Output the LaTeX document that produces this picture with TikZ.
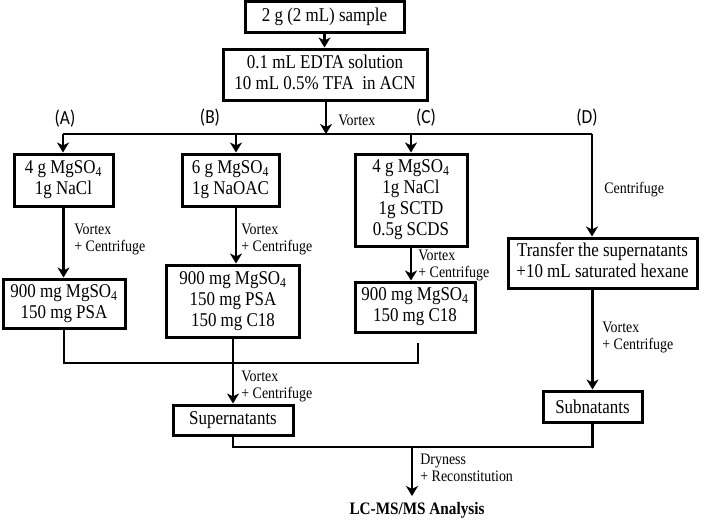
\documentclass[tikz,border=0pt]{standalone}
\usepackage{fontspec}
\usepackage{graphicx}
\setmainfont{Liberation Serif}
\newfontfamily\carl{Carlito}
\usetikzlibrary{arrows.meta}
\newcommand{\mycen}[1]{\scalebox{0.87}[1]{\begin{tabular}{@{}c@{}}#1\end{tabular}}}
\newcommand{\myleft}[1]{\scalebox{0.87}[1]{\begin{tabular}{@{}l@{}}#1\end{tabular}}}
\newcommand{\mysq}[1]{\scalebox{0.87}[1]{#1}}
\begin{document}
\begin{tikzpicture}[x=1pt,y=-1pt, line width=2.8pt,
  box/.style={draw, line width=3pt, inner sep=0pt, align=center, font=\fontsize{19.5}{21}\selectfont},
  lab/.style={anchor=west, inner sep=0pt, font=\fontsize{16}{17}\selectfont},
  arr/.style={-{Stealth[length=10pt,width=12pt,inset=3pt]}},
  tag/.style={font=\carl\fontsize{20}{22}\selectfont, inner sep=0pt}]
\useasboundingbox (0,0) rectangle (705,522);

% boxes
\node[box, minimum width=159pt, minimum height=31pt] (b1) at (324.5,17) {\mysq{2 g (2 mL) sample}};
\node[box, minimum width=204pt, minimum height=51pt] (b2) at (325,74.5) {\mycen{0.1 mL EDTA solution\\10 mL 0.5\% TFA~ in ACN}};
\node[box, minimum width=99pt, minimum height=52pt] (a1) at (63.5,180) {\mycen{4 g MgSO\textsubscript{4}\\1g NaCl}};
\node[box, minimum width=97pt, minimum height=52pt] (bb1) at (230.5,180) {\mycen{6 g MgSO\textsubscript{4}\\1g NaOAC}};
\node[box, minimum width=112pt, minimum height=92pt] (c1) at (411,200) {\mycen{4 g MgSO\textsubscript{4}\\1g NaCl\\1g SCTD\\0.5g SCDS}};
\node[box, minimum width=189pt, minimum height=50pt] (d1) at (602.5,263) {\mycen{Transfer the supernatants\\+10 mL saturated hexane}};
\node[box, minimum width=122pt, minimum height=49pt] (a2) at (64,303.5) {\mycen{900 mg MgSO\textsubscript{4}\\150 mg PSA}};
\node[box, minimum width=133pt, minimum height=72pt] (bb2) at (233,301) {\mycen{900 mg MgSO\textsubscript{4}\\150 mg PSA\\150 mg C18}};
\node[box, minimum width=120pt, minimum height=50pt] (c2) at (415,307) {\mycen{900 mg MgSO\textsubscript{4}\\150 mg C18}};
\node[box, minimum width=120pt, minimum height=30pt] (sup) at (233,420) {\mysq{Supernatants}};
\node[box, minimum width=99pt, minimum height=31pt] (sub) at (592.5,406.5) {\mysq{Subnatants}};
\node[inner sep=0pt, font=\bfseries\fontsize{17.5}{19}\selectfont] (lc) at (417,510) {\mysq{LC-MS/MS Analysis}};

% tags
\node[tag] (tA) at (65,119) {\mysq{(A)}};
\node[tag] (tB) at (210,118) {\mysq{(B)}};
\node[tag] (tC) at (426,118) {\mysq{(C)}};
\node[tag] (tD) at (587,118) {\mysq{(D)}};

% coordinates
\coordinate (hA) at (63,134);
\coordinate (hB) at (236,134);
\coordinate (hC) at (411,134);
\coordinate (hD) at (592,134);
\coordinate (hV) at (326,134);
\coordinate (cA) at (64,363);
\coordinate (cC) at (418,363);
\coordinate (cCt) at (418,343);
\coordinate (bj) at (412,447);
\coordinate (lcT) at (412,496);

% connectors
\draw[arr] (b1) -- (b1 |- b2.north);
\draw[arr] (b2.south -| hV) -- (hV);
\draw (hA) -- (hD);
\draw[arr] (hA) -- (hA |- a1.north);
\draw[arr] (hB) -- (hB |- bb1.north);
\draw[arr] (hC) -- (hC |- c1.north);
\draw[arr] (hD) -- (hD |- d1.north);
\draw[arr] (a1.south) -- (a1.south |- a2.north);
\draw[arr] (hB |- bb1.south) -- (hB |- bb2.north);
\draw[arr] (hC |- c1.south) -- (hC |- c2.north);
\draw (a2.south) -- (cA) -- (cC) -- (cCt);
\draw[arr] (bb2.south) -- (sup.north);
\draw[arr] (sub.north |- d1.south) -- (sub.north);
\draw (sup.south) |- (bj) -| (sub.south);
\draw[arr] (bj) -- (lcT);

% labels
\node[lab] (lv) at (337,120) {\mysq{Vortex}};
\node[lab] (lcd) at (603,190) {\mysq{Centrifuge}};
\node[lab] (la) at (73,240) {\myleft{Vortex\\+ Centrifuge}};
\node[lab] (lb) at (240,240) {\myleft{Vortex\\+ Centrifuge}};
\node[lab] (lcc) at (417,266) {\myleft{Vortex\\+ Centrifuge}};
\node[lab] (ld) at (601,338) {\myleft{Vortex\\+ Centrifuge}};
\node[lab] (ls) at (240,386.5) {\myleft{Vortex\\+ Centrifuge}};
\node[lab] (lr) at (419,470) {\myleft{Dryness\\+ Reconstitution}};
\end{tikzpicture}
\end{document}
